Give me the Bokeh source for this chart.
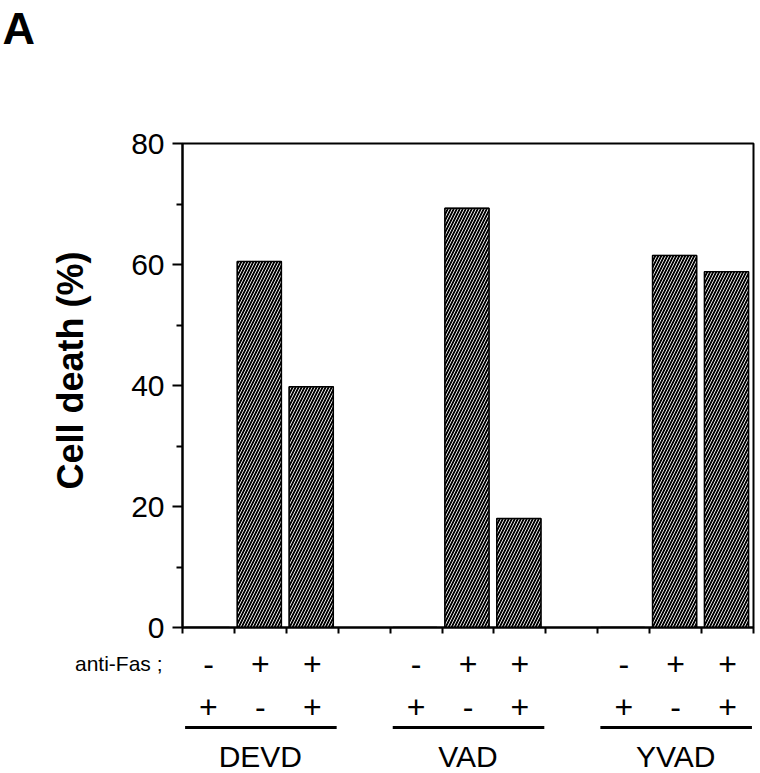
from bokeh.plotting import figure
from bokeh.models import Range1d, FixedTicker, ColumnDataSource
from bokeh.layouts import column
from bokeh.embed import file_html
from bokeh.resources import INLINE
from bokeh.core.properties import value

# ---- data ----
groups = ["DEVD", "VAD", "YVAD"]
anti_fas = ["-", "+", "+"]
inhibitor = ["+", "-", "+"]
devd = [0, 60.5, 39.8]
vad = [0, 69.3, 18.0]
yvad = [0, 61.5, 58.8]
y_ticks = [0, 20, 40, 60, 80]
y_minor = [10, 30, 50, 70]
series = [devd, vad, yvad]
row_label = "anti-Fas ;"
panel_letter = "A"
y_label = "Cell death (%)"

FONT = "Liberation Sans"
n_slots = len(groups) * 4 - 1
W = 755

bar_x, bar_top, sign_x, row1, row2 = [], [], [], [], []
for g, vals in enumerate(series):
    for j, v in enumerate(vals):
        bar_x.append(g * 4 + j + 0.48)
        bar_top.append(v)
        sign_x.append(g * 4 + j + 0.5)
        row1.append(anti_fas[j])
        row2.append(inhibitor[j])

# ---- panel letter strip (letter drawn as this strip's title) ----
H0 = 70
p0 = figure(width=W, height=H0, x_range=Range1d(0, n_slots), y_range=Range1d(0, 1),
            x_axis_type=None, y_axis_type=None, output_backend="svg", toolbar_location=None,
            min_border_left=182, min_border_right=2, min_border_top=0, min_border_bottom=0)
p0.outline_line_color = None
p0.xgrid.visible = False
p0.ygrid.visible = False
p0.title.text = panel_letter
p0.title.text_font = FONT
p0.title.text_font_style = "bold"
p0.title.text_font_size = "45px"
p0.title.text_color = "black"
p0.title.align = "left"
p0.title.offset = -180
p0.title.standoff = 0

# ---- main chart ----
p1 = figure(width=W, height=642 - H0, x_range=p0.x_range, y_range=Range1d(0, 80),
            output_backend="svg", toolbar_location=None,
            min_border_left=182, min_border_right=2, min_border_top=143 - H0, min_border_bottom=15)
p1.vbar(x=bar_x, top=bar_top, bottom=0, width=0.85, fill_color="black", line_color="black",
        line_width=1)
p1.vbar(x=bar_x, top=bar_top, bottom=0, width=0.85, fill_alpha=0, line_color="black",
        line_width=1.5, hatch_pattern="/", hatch_color="white", hatch_scale=6, hatch_weight=0.9)

p1.xgrid.visible = False
p1.ygrid.visible = False
p1.outline_line_color = "black"
p1.outline_line_width = 2
p1.outline_line_alpha = 1

ya = p1.yaxis[0]
ya.ticker = FixedTicker(ticks=y_ticks, minor_ticks=y_minor)
ya.major_tick_out = 10
ya.major_tick_in = 0
ya.minor_tick_out = 6
ya.minor_tick_in = 0
ya.axis_line_width = 2
ya.major_tick_line_width = 2
ya.minor_tick_line_width = 2
ya.major_label_text_font = FONT
ya.major_label_text_font_size = "30px"
ya.major_label_text_color = "black"
ya.major_label_standoff = 8
ya.axis_label = "\u00a0\u00a0\u00a0" + y_label
ya.axis_label_text_font = FONT
ya.axis_label_text_font_style = "bold"
ya.axis_label_text_font_size = "36px"
ya.axis_label_text_color = "black"
ya.axis_label_standoff = 37

xa = p1.xaxis[0]
xa.ticker = FixedTicker(ticks=list(range(n_slots + 1)))
xa.major_label_overrides = {i: "" for i in range(n_slots + 1)}
xa.major_tick_out = 6
xa.major_tick_in = 0
xa.minor_tick_line_color = None
xa.axis_line_width = 2
xa.major_tick_line_width = 2

# ---- condition rows below ----
p2 = figure(width=W, height=131, x_range=p0.x_range, y_range=Range1d(131, 0),
            x_axis_type=None, output_backend="svg", toolbar_location=None,
            min_border_left=182, min_border_right=2, min_border_top=0, min_border_bottom=0)
p2.outline_line_color = None
p2.xgrid.visible = False
p2.ygrid.visible = False

ROW1, ROW2, ULINE, GLAB = 21, 64, 85, 114
la = p2.yaxis[0]
la.ticker = FixedTicker(ticks=[ROW1])
la.major_label_overrides = {ROW1: row_label}
la.axis_line_color = None
la.major_tick_line_color = None
la.minor_tick_line_color = None
la.major_label_standoff = 14
la.major_label_text_font = FONT
la.major_label_text_font_size = "21px"
la.major_label_text_color = "black"

src = ColumnDataSource(dict(x=sign_x, r1=row1, r2=row2,
                            y1=[ROW1] * len(sign_x), y2=[ROW2] * len(sign_x)))
p2.text(x="x", y="y1", text="r1", source=src, text_font=value(FONT), text_font_size="32px",
        text_align="center", text_baseline="middle", text_color="black")
p2.text(x="x", y="y2", text="r2", source=src, text_font=value(FONT), text_font_size="32px",
        text_align="center", text_baseline="middle", text_color="black")

gx0 = [g * 4 + 0.05 for g in range(len(groups))]
gx1 = [g * 4 + 2.97 for g in range(len(groups))]
p2.segment(x0=gx0, x1=gx1, y0=[ULINE] * 3, y1=[ULINE] * 3, line_color="black", line_width=3)
p2.text(x=[g * 4 + 1.5 for g in range(len(groups))], y=[GLAB] * 3, text=groups,
        text_font=value(FONT), text_font_size="30px", text_align="center",
        text_baseline="middle", text_color="black")

layout = column(p0, p1, p2)
open("out.html", "w").write(file_html(layout, INLINE))
